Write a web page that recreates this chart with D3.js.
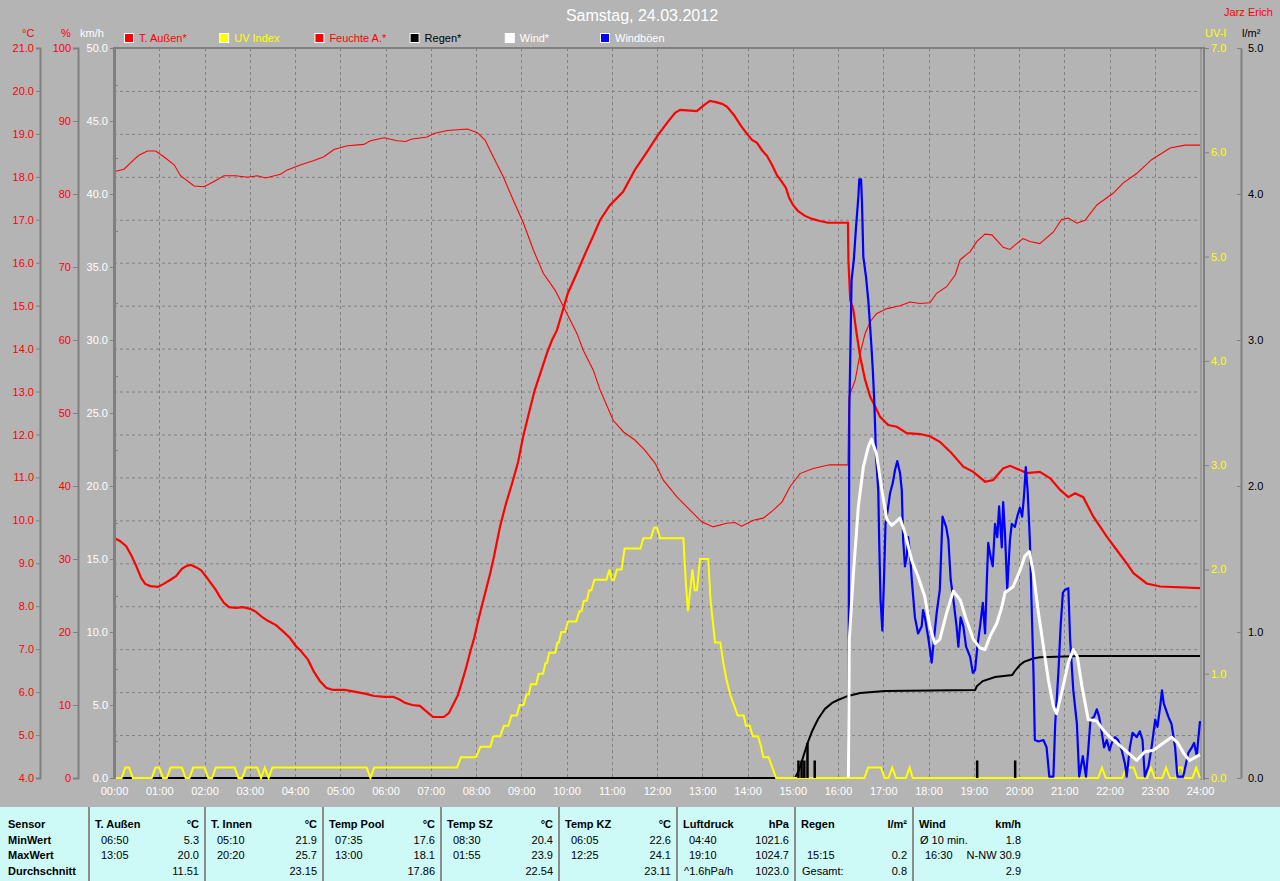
<!DOCTYPE html>
<html><head><meta charset="utf-8">
<script src="https://cdn.jsdelivr.net/npm/d3@7"></script>
<style>
html,body{margin:0;padding:0;background:#b4b4b4;}
svg{display:block;}
text{font-family:"Liberation Sans",Arial,sans-serif;}
</style></head>
<body>
<script>
// ---------- DATA ----------
const title = "Samstag, 24.03.2012";
const author = "Jarz Erich";
const hourLabels = d3.range(0,25).map(h => String(h).padStart(2,"0")+":00");
const legendNames = ["T. Außen*","UV Index","Feuchte A.*","Regen*","Wind*","Windböen"];
const legendColors = ["#ff0000","#ffff00","#ff0000","#000000","#ffffff","#0000ff"];
const legendTextColors = ["#ff0000","#ffff00","#ff0000","#000000","#ffffff","#ffffff"];

// [hour, °C]
const tempOut = [[0,9.59],[0.13,9.52],[0.27,9.40],[0.38,9.19],[0.49,8.94],[0.60,8.66],[0.69,8.52],[0.80,8.47],[0.97,8.45],[1.10,8.52],[1.24,8.61],[1.37,8.70],[1.50,8.87],[1.61,8.94],[1.70,8.96],[1.81,8.91],[1.92,8.84],[2.03,8.70],[2.14,8.54],[2.25,8.38],[2.34,8.22],[2.43,8.08],[2.54,7.98],[2.70,7.96],[2.85,7.98],[3.01,7.94],[3.14,7.87],[3.27,7.75],[3.40,7.66],[3.58,7.56],[3.73,7.42],[3.89,7.26],[4.02,7.07],[4.13,6.96],[4.29,6.75],[4.42,6.47],[4.55,6.26],[4.69,6.10],[4.84,6.05],[5.10,6.05],[5.37,6.00],[5.57,5.96],[5.75,5.91],[5.99,5.89],[6.17,5.89],[6.32,5.82],[6.43,5.75],[6.59,5.70],[6.76,5.68],[6.87,5.58],[7.05,5.42],[7.29,5.42],[7.40,5.51],[7.49,5.70],[7.60,5.93],[7.69,6.24],[7.78,6.56],[7.87,6.93],[7.96,7.26],[8.04,7.63],[8.13,8.01],[8.22,8.38],[8.31,8.75],[8.40,9.17],[8.53,9.85],[8.66,10.38],[8.80,10.87],[8.93,11.36],[9.04,11.94],[9.17,12.50],[9.30,13.04],[9.44,13.48],[9.57,13.90],[9.68,14.20],[9.79,14.43],[9.92,14.90],[10.03,15.29],[10.23,15.76],[10.45,16.30],[10.59,16.62],[10.74,16.99],[10.96,17.34],[11.25,17.65],[11.51,18.16],[11.78,18.58],[12.02,18.97],[12.24,19.28],[12.40,19.49],[12.51,19.56],[12.88,19.53],[13.04,19.67],[13.17,19.77],[13.30,19.74],[13.44,19.70],[13.55,19.63],[13.70,19.44],[13.86,19.18],[13.99,19.00],[14.10,18.86],[14.21,18.79],[14.32,18.62],[14.43,18.49],[14.54,18.28],[14.65,18.04],[14.76,17.88],[14.85,17.74],[14.92,17.51],[15.01,17.34],[15.12,17.20],[15.27,17.09],[15.43,17.02],[15.60,16.97],[15.78,16.93],[16.22,16.93],[16.23,16.06],[16.27,15.13],[16.34,14.90],[16.41,14.36],[16.49,13.81],[16.60,13.27],[16.71,12.88],[16.82,12.65],[16.93,12.41],[17.11,12.22],[17.30,12.18],[17.52,12.03],[17.81,12.01],[18.03,11.96],[18.25,11.83],[18.48,11.60],[18.77,11.25],[18.99,11.13],[19.25,10.90],[19.43,10.94],[19.65,11.21],[19.80,11.27],[20.02,11.17],[20.17,11.10],[20.46,11.13],[20.69,10.98],[20.91,10.71],[21.09,10.54],[21.24,10.63],[21.42,10.54],[21.64,10.09],[21.94,9.62],[22.16,9.31],[22.38,9.00],[22.53,8.77],[22.82,8.53],[23.12,8.46],[24.0,8.42]];

// [hour, %]
const humidity = [[0,83.05],[0.22,83.4],[0.44,84.7],[0.55,85.3],[0.74,85.9],[0.92,85.9],[1.10,85.1],[1.33,84.0],[1.47,82.5],[1.77,81.1],[1.99,81.0],[2.21,81.7],[2.43,82.5],[2.69,82.5],[2.95,82.3],[3.17,82.5],[3.35,82.2],[3.68,82.7],[3.83,83.3],[4.13,84.0],[4.42,84.6],[4.64,85.1],[4.86,86.1],[5.16,86.6],[5.52,86.8],[5.67,87.3],[5.97,87.7],[6.26,87.3],[6.45,87.2],[6.56,87.5],[6.92,87.8],[7.07,88.3],[7.37,88.7],[7.81,88.9],[8.03,88.4],[8.20,87.4],[8.38,85.1],[8.60,82.4],[8.82,79.2],[9.05,76.0],[9.27,72.3],[9.49,69.1],[9.75,66.8],[9.97,64.1],[10.23,60.9],[10.37,58.6],[10.59,55.9],[10.74,53.2],[11.03,49.0],[11.26,47.4],[11.51,46.3],[11.73,44.9],[11.96,43.1],[12.14,40.8],[12.44,38.5],[12.73,36.7],[12.99,35.1],[13.24,34.4],[13.54,34.9],[13.72,35.0],[13.87,34.5],[14.13,35.3],[14.35,35.6],[14.57,36.7],[14.76,37.8],[14.94,39.9],[15.16,41.7],[15.45,42.4],[15.82,42.9],[16.22,42.9],[16.24,52.2],[16.38,54.5],[16.49,58.2],[16.60,60.9],[16.71,62.5],[16.85,63.6],[17.08,64.3],[17.37,64.7],[17.59,65.2],[17.81,65.0],[18.03,65.1],[18.18,66.4],[18.40,67.3],[18.59,68.9],[18.70,71.0],[18.92,72.1],[19.07,73.5],[19.25,74.5],[19.40,74.4],[19.65,72.7],[19.80,72.4],[19.95,73.2],[20.09,73.9],[20.24,73.5],[20.46,73.2],[20.76,74.8],[20.94,76.5],[21.09,76.7],[21.28,76.0],[21.46,76.4],[21.72,78.5],[22.08,80.1],[22.30,81.5],[22.60,82.8],[22.93,84.7],[23.34,86.3],[23.67,86.7],[24.0,86.7]];

// [minute of day, UV index]
const uvIndex = [[0,0],[10,0],[15,0.1],[20,0.1],[25,0],[50,0],[55,0.1],[60,0.1],[65,0],[70,0],[75,0.1],[90,0.1],[95,0],[100,0],[105,0.1],[120,0.1],[125,0],[130,0],[135,0.1],[160,0.1],[165,0],[170,0],[175,0.1],[190,0.1],[195,0],[200,0.1],[205,0],[210,0.1],[335,0.1],[340,0],[345,0.1],[455,0.1],[460,0.2],[480,0.2],[486,0.3],[499,0.3],[503,0.4],[512,0.4],[517,0.5],[523,0.5],[527,0.6],[534,0.6],[538,0.7],[543,0.7],[547,0.8],[550,0.8],[553,0.9],[560,0.9],[563,1.0],[569,1.0],[572,1.1],[574,1.1],[577,1.2],[585,1.2],[588,1.3],[590,1.3],[593,1.4],[598,1.4],[602,1.5],[613,1.5],[617,1.6],[620,1.6],[623,1.7],[627,1.7],[630,1.8],[633,1.8],[637,1.9],[653,1.9],[657,2.0],[660,1.9],[663,1.9],[667,2.0],[673,2.0],[677,2.2],[698,2.2],[702,2.3],[712,2.3],[716,2.4],[720,2.4],[724,2.3],[755,2.3],[758,1.9],[761,1.6],[764,1.8],[767,2.0],[770,1.8],[773,1.8],[777,2.1],[788,2.1],[791,1.7],[794,1.5],[797,1.3],[804,1.3],[808,1.1],[812,0.95],[817,0.8],[822,0.7],[827,0.6],[835,0.6],[838,0.5],[843,0.5],[847,0.4],[854,0.4],[858,0.3],[861,0.2],[868,0.2],[873,0.1],[878,0],[995,0],[1000,0.1],[1017,0.1],[1022,0],[1027,0],[1032,0.1],[1037,0],[1050,0],[1055,0.1],[1059,0],[1305,0],[1310,0.1],[1315,0],[1337,0],[1342,0.1],[1352,0.1],[1357,0],[1370,0],[1375,0.1],[1380,0],[1390,0],[1395,0.1],[1400,0],[1408,0],[1412,0.1],[1416,0.1],[1420,0],[1430,0],[1435,0.1],[1440,0]];

// [hour, l/m² cumulative]
const rainTotal = [[0,0],[15.05,0],[15.14,0.055],[15.23,0.144],[15.32,0.233],[15.43,0.322],[15.56,0.404],[15.71,0.473],[15.87,0.514],[16.00,0.534],[16.22,0.562],[16.49,0.582],[17.04,0.596],[19.03,0.603],[19.07,0.630],[19.20,0.664],[19.47,0.692],[19.85,0.705],[19.91,0.733],[20.02,0.774],[20.11,0.795],[20.31,0.818],[20.46,0.827],[21.35,0.836],[24.0,0.836]];
// [hour, l/m² per interval]
const rainBars = [[15.12,0.12],[15.19,0.12],[15.25,0.12],[15.32,0.24],[15.48,0.12],[19.07,0.12],[19.91,0.12]];

// [hour, km/h]
const windAvg = [[16.23,0],[16.25,9.5],[16.34,14.0],[16.45,18.6],[16.56,21.3],[16.67,22.7],[16.74,23.2],[16.85,22.2],[16.97,19.7],[17.08,17.7],[17.19,17.3],[17.37,17.8],[17.48,16.8],[17.63,14.9],[17.77,13.8],[17.92,12.4],[18.03,10.4],[18.14,9.2],[18.25,9.5],[18.40,11.3],[18.55,12.8],[18.70,12.2],[18.84,10.8],[18.99,9.5],[19.14,8.9],[19.25,8.8],[19.36,9.7],[19.51,10.6],[19.62,11.7],[19.69,12.7],[19.87,13.1],[20.02,14.2],[20.13,15.2],[20.23,15.5],[20.32,14.0],[20.43,11.3],[20.54,9.0],[20.65,6.7],[20.76,4.9],[20.83,4.4],[20.94,5.8],[21.09,7.9],[21.20,8.8],[21.29,8.3],[21.39,6.3],[21.53,4.0],[21.72,3.9],[21.86,3.3],[22.01,2.8],[22.16,2.4],[22.38,1.8],[22.60,1.2],[22.78,1.8],[22.97,1.9],[23.19,2.4],[23.37,2.8],[23.51,2.4],[23.66,1.6],[23.77,1.2],[24.0,1.6]];

const windGust = [[16.23,0],[16.25,25.0],[16.30,34.1],[16.35,35.5],[16.40,37.8],[16.45,39.8],[16.47,41.0],[16.51,41.0],[16.53,39.4],[16.56,35.7],[16.62,34.3],[16.67,32.7],[16.71,30.9],[16.74,29.5],[16.77,27.9],[16.80,25.9],[16.82,24.1],[16.84,22.0],[16.89,19.7],[16.91,16.3],[16.94,12.2],[16.98,10.1],[17.02,14.0],[17.05,17.4],[17.11,18.6],[17.15,19.5],[17.21,20.2],[17.26,21.1],[17.31,21.7],[17.37,20.9],[17.41,19.7],[17.44,16.3],[17.48,14.5],[17.52,15.2],[17.55,16.5],[17.59,15.4],[17.63,13.6],[17.70,11.0],[17.77,9.9],[17.85,10.4],[17.88,11.5],[17.92,11.0],[18.00,9.5],[18.07,7.9],[18.12,9.5],[18.18,11.3],[18.25,12.9],[18.31,17.9],[18.39,17.2],[18.44,16.3],[18.49,13.6],[18.55,12.2],[18.62,10.4],[18.66,9.0],[18.71,11.0],[18.77,10.4],[18.83,9.0],[18.92,8.3],[18.98,7.2],[19.03,7.4],[19.08,9.0],[19.14,10.4],[19.20,12.0],[19.25,9.9],[19.29,13.6],[19.32,16.1],[19.37,15.2],[19.42,14.5],[19.47,17.4],[19.52,16.5],[19.56,18.6],[19.62,15.8],[19.65,18.9],[19.69,16.8],[19.74,12.9],[19.80,16.3],[19.84,17.4],[19.91,17.2],[19.96,17.9],[20.02,18.5],[20.07,17.9],[20.11,19.3],[20.15,21.3],[20.19,19.7],[20.24,16.3],[20.28,11.7],[20.32,7.2],[20.35,2.6],[20.43,2.5],[20.54,2.6],[20.61,2.1],[20.67,0.1],[20.76,0.1],[20.80,3.7],[20.87,7.2],[20.92,10.4],[20.97,12.7],[21.02,12.9],[21.09,13.0],[21.13,9.5],[21.20,6.0],[21.28,3.7],[21.33,0.1],[21.41,1.5],[21.48,0.1],[21.53,1.9],[21.58,4.0],[21.66,4.2],[21.72,4.7],[21.77,4.2],[21.83,3.1],[21.88,2.1],[21.94,2.6],[22.00,1.9],[22.05,2.4],[22.12,2.8],[22.19,2.6],[22.27,1.9],[22.34,1.0],[22.38,0.1],[22.45,2.1],[22.51,3.1],[22.60,2.8],[22.67,3.2],[22.73,2.6],[22.78,0.1],[22.86,0.8],[22.93,2.1],[23.01,4.0],[23.06,3.5],[23.12,4.9],[23.16,6.0],[23.20,5.1],[23.30,4.2],[23.37,3.7],[23.45,2.1],[23.50,0.1],[23.63,0.1],[23.74,1.7],[23.82,2.1],[23.87,2.4],[23.93,1.5],[23.96,2.6],[24.0,3.9]];

// ---------- TABLE DATA ----------
const rowLabels = ["Sensor","MinWert","MaxWert","Durchschnitt"];
const tableCols = [
  {name:"T. Außen", unit:"°C", min:["06:50","5.3"], max:["13:05","20.0"], avg:["","11.51"]},
  {name:"T. Innen", unit:"°C", min:["05:10","21.9"], max:["20:20","25.7"], avg:["","23.15"]},
  {name:"Temp Pool", unit:"°C", min:["07:35","17.6"], max:["13:00","18.1"], avg:["","17.86"]},
  {name:"Temp SZ", unit:"°C", min:["08:30","20.4"], max:["01:55","23.9"], avg:["","22.54"]},
  {name:"Temp KZ", unit:"°C", min:["06:05","22.6"], max:["12:25","24.1"], avg:["","23.11"]},
  {name:"Luftdruck", unit:"hPa", min:["04:40","1021.6"], max:["19:10","1024.7"], avg:["^1.6hPa/h","1023.0"]},
  {name:"Regen", unit:"l/m²", min:["",""], max:["15:15","0.2"], avg:["Gesamt:","0.8"]},
  {name:"Wind", unit:"km/h", min:["Ø 10 min.","1.8"], max:["16:30","N-NW 30.9"], avg:["","2.9"]}
];
const colEdges = [89,205,323,441,559,677,795,913,1027];

// ---------- DRAW ----------
const W = 1280, H = 881;
const L = 114, R = 1200, T = 48, B = 778;
const svg = d3.select("body").append("svg").attr("width",W).attr("height",H);
svg.append("rect").attr("width",W).attr("height",H).attr("fill","#b4b4b4");

const x = d3.scaleLinear().domain([0,24]).range([L,R]);
const yT = d3.scaleLinear().domain([4,21]).range([B,T]);
const yH = d3.scaleLinear().domain([0,100]).range([B,T]);
const yW = d3.scaleLinear().domain([0,50]).range([B,T]);
const yU = d3.scaleLinear().domain([0,7]).range([B,T]);
const yR = d3.scaleLinear().domain([0,5]).range([B,T]);

const gray = "#808080";
const FS = "11px";

// grid
const grid = svg.append("g");
grid.selectAll("line.h").data(d3.range(5,21)).join("line")
  .attr("x1",L).attr("x2",R).attr("y1",d=>yT(d)+0.5).attr("y2",d=>yT(d)+0.5)
  .attr("stroke",gray).attr("stroke-dasharray","3,3");
grid.selectAll("line.v").data(d3.range(1,24)).join("line")
  .attr("x1",d=>Math.round(x(d))+0.5).attr("x2",d=>Math.round(x(d))+0.5).attr("y1",T).attr("y2",B)
  .attr("stroke",gray).attr("stroke-dasharray","3,3");

// minor inward ticks on km/h side
svg.append("g").selectAll("line").data(d3.range(2.5,50,5)).join("line")
  .attr("x1",L+1).attr("x2",L+4).attr("y1",d=>Math.round(yW(d))+0.5).attr("y2",d=>Math.round(yW(d))+0.5)
  .attr("stroke",gray);

function styleAxis(g, color){
  g.selectAll(".domain").attr("stroke",gray).attr("stroke-width",2);
  g.selectAll(".tick line").attr("stroke",gray);
  g.selectAll(".tick text").attr("fill",color).style("font-size",FS)
    .style("font-family",'"Liberation Sans",Arial,sans-serif');
}

// left axes
const aT = svg.append("g").attr("transform","translate(40,0)")
  .call(d3.axisLeft(yT).tickValues(d3.range(4,21.5,1)).tickFormat(d3.format(".1f")).tickSizeOuter(0).tickSize(4).tickPadding(2));
styleAxis(aT,"#ff0000");
const aH = svg.append("g").attr("transform","translate(78,0)")
  .call(d3.axisLeft(yH).tickValues(d3.range(0,101,10)).tickFormat(d3.format("d")).tickSizeOuter(0).tickSize(5).tickPadding(2));
styleAxis(aH,"#ff0000");
const aW = svg.append("g").attr("transform","translate(114,0)")
  .call(d3.axisLeft(yW).tickValues(d3.range(0,50.1,5)).tickFormat(d3.format(".1f")).tickSizeOuter(0).tickSize(4).tickPadding(2));
styleAxis(aW,"#ffffff");
aW.select(".domain").remove();

// right axes
const aU = svg.append("g").attr("transform","translate(1204,0)")
  .call(d3.axisRight(yU).tickValues(d3.range(0,7.1,1)).tickFormat(d3.format(".1f")).tickSizeOuter(0).tickSize(5).tickPadding(2));
styleAxis(aU,"#ffff00");
aU.select(".domain").remove();
const aR = svg.append("g").attr("transform","translate(1241,0)")
  .call(d3.axisRight(yR).tickValues(d3.range(0,5.1,1)).tickFormat(d3.format(".1f")).tickSizeOuter(0).tickSizeInner(-4).tickPadding(7));
styleAxis(aR,"#000000");

// x axis labels
const aX = svg.append("g").attr("transform",`translate(0,${B})`)
  .call(d3.axisBottom(x).tickValues(d3.range(0,24.1,1)).tickFormat((d,i)=>hourLabels[d]).tickSize(0).tickPadding(9));
aX.select(".domain").remove();
aX.selectAll(".tick text").attr("fill","#ffffff").style("font-size",FS);

// frame
svg.append("line").attr("x1",L).attr("x2",1205).attr("y1",T).attr("y2",T).attr("stroke",gray).attr("stroke-width",2);
svg.append("line").attr("x1",L+0.5).attr("x2",L+0.5).attr("y1",T-1).attr("y2",B+1).attr("stroke",gray).attr("stroke-width",3);
svg.append("line").attr("x1",1201).attr("x2",1201).attr("y1",T).attr("y2",B+2).attr("stroke",gray).attr("stroke-width",1);
svg.append("line").attr("x1",1204).attr("x2",1204).attr("y1",T).attr("y2",B+2).attr("stroke",gray).attr("stroke-width",2);

// axis headers
const hdr = svg.append("g").style("font-size",FS);
hdr.append("text").attr("x",22).attr("y",37).attr("fill","#ff0000").text("°C");
hdr.append("text").attr("x",61).attr("y",37).attr("fill","#ff0000").text("%");
hdr.append("text").attr("x",80).attr("y",37).attr("fill","#ffffff").text("km/h");
hdr.append("text").attr("x",1205).attr("y",37).attr("fill","#ffff00").text("UV-I");
hdr.append("text").attr("x",1242).attr("y",37).attr("fill","#000000").text("l/m²");

// title
svg.append("text").attr("x",642).attr("y",21).attr("text-anchor","middle").attr("fill","#ffffff")
  .style("font-size","16px").text(title);
svg.append("text").attr("x",1273).attr("y",16).attr("text-anchor","end").attr("fill","#ff0000")
  .style("font-size","11px").text(author);

// legend
const lg = svg.append("g").selectAll("g").data(legendNames).join("g")
  .attr("transform",(d,i)=>`translate(${124+i*95.2},33)`);
lg.append("rect").attr("x",0.5).attr("y",0.5).attr("width",9).attr("height",9)
  .attr("fill",(d,i)=>legendColors[i]).attr("stroke","#ffffff").attr("stroke-width",1);
lg.append("text").attr("x",15).attr("y",9).attr("fill",(d,i)=>legendTextColors[i]).style("font-size",FS).text(d=>d);

// clip
svg.append("clipPath").attr("id","plot").append("rect").attr("x",L+2).attr("y",T).attr("width",R-L-1).attr("height",B-T+2);
const plot = svg.append("g").attr("clip-path","url(#plot)");

const lineT = d3.line().x(d=>x(d[0])).y(d=>yT(d[1]));
const lineH = d3.line().x(d=>x(d[0])).y(d=>yH(d[1]));
const lineU = d3.line().x(d=>x(d[0]/60)).y(d=>yU(d[1]));
const lineR = d3.line().x(d=>x(d[0])).y(d=>yR(d[1]));
const lineW = d3.line().x(d=>x(d[0])).y(d=>yW(d[1]));

plot.append("path").datum(tempOut).attr("d",lineT).attr("fill","none").attr("stroke","#ff0000").attr("stroke-width",2.2);
plot.append("path").datum(humidity).attr("d",lineH).attr("fill","none").attr("stroke","#ff0000").attr("stroke-width",1.1);
plot.append("path").datum(rainTotal).attr("d",lineR).attr("fill","none").attr("stroke","#000000").attr("stroke-width",2);
plot.append("path").datum(uvIndex).attr("d",lineU).attr("fill","none").attr("stroke","#ffff00").attr("stroke-width",2);
plot.selectAll("rect.rain").data(rainBars).join("rect")
  .attr("x",d=>x(d[0])-1).attr("width",2.5).attr("y",d=>yR(d[1])).attr("height",d=>yR(0)-yR(d[1]))
  .attr("fill","#000000");
plot.append("path").datum(windGust).attr("d",lineW).attr("fill","none").attr("stroke","#0000ff").attr("stroke-width",2.2).attr("stroke-linejoin","round");
plot.append("path").datum(windAvg).attr("d",lineW).attr("fill","none").attr("stroke","#ffffff").attr("stroke-width",3).attr("stroke-linejoin","round");

// ---------- TABLE ----------
const tb = svg.append("g");
tb.append("rect").attr("x",0).attr("y",807).attr("width",W).attr("height",H-807).attr("fill","#cdf9f6");
const rowY = [828,843.5,859,875];
tb.selectAll("text.rl").data(rowLabels).join("text")
  .attr("x",8).attr("y",(d,i)=>rowY[i]).style("font-size",FS).style("font-weight","bold").attr("fill","#000").text(d=>d);
tb.selectAll("line.sep").data(colEdges.slice(0,8)).join("line")
  .attr("x1",d=>d).attr("x2",d=>d).attr("y1",807).attr("y2",H).attr("stroke","#8c8c8c").attr("stroke-width",2);
tableCols.forEach((c,i)=>{
  const x0 = colEdges[i], x1 = colEdges[i+1];
  const g = tb.append("g").style("font-size",FS).attr("fill","#000");
  g.append("text").attr("x",x0+6).attr("y",rowY[0]).style("font-weight","bold").text(c.name);
  g.append("text").attr("x",x1-6).attr("y",rowY[0]).attr("text-anchor","end").style("font-weight","bold").text(c.unit);
  [c.min,c.max,c.avg].forEach((r,j)=>{
    const lead = (r[0].startsWith("^")||r[0].startsWith("G")||r[0].startsWith("Ø")) ? x0+7 : x0+12;
    g.append("text").attr("x",lead).attr("y",rowY[j+1]).text(r[0]);
    g.append("text").attr("x",x1-6).attr("y",rowY[j+1]).attr("text-anchor","end").text(r[1]);
  });
});
</script>
</body></html>
